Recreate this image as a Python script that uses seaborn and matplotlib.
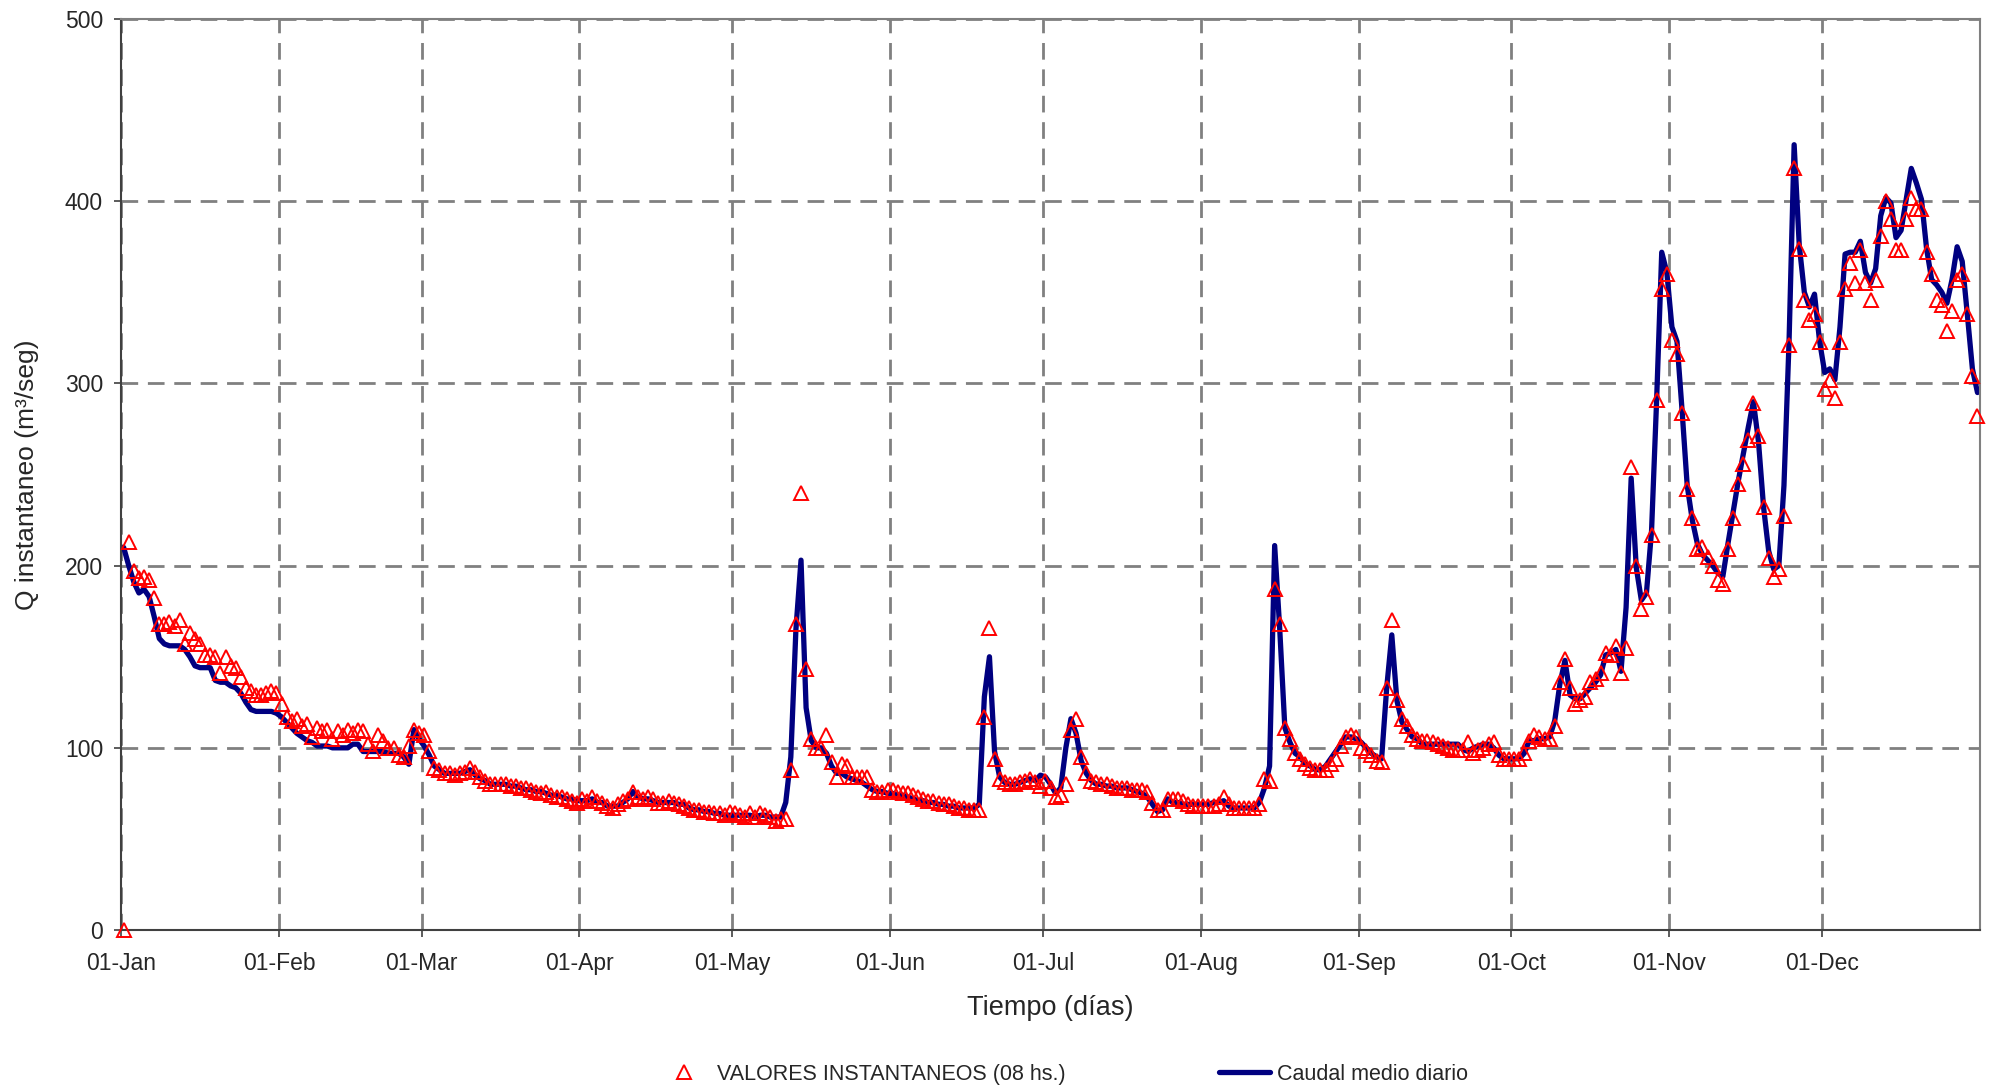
import numpy as np
import matplotlib
matplotlib.use("Agg")
import matplotlib.pyplot as plt
from matplotlib.lines import Line2D
import seaborn as sns

# month axis
month_days = [31, 28, 31, 30, 31, 30, 31, 31, 30, 31, 30, 31]
tick_labels = ["01-Jan", "01-Feb", "01-Mar", "01-Apr", "01-May", "01-Jun",
               "01-Jul", "01-Aug", "01-Sep", "01-Oct", "01-Nov", "01-Dec"]

# Caudal medio diario (m3/seg), one value per day
medio_ene = [210, 200, 191, 185, 187, 183, 172, 160, 157, 156, 156, 156, 154, 150, 145, 144,
             144, 144, 137, 136, 136, 134, 133, 130, 125, 121, 120, 120, 120, 120, 119]
medio_feb = [117, 114, 111, 108, 106, 104, 103, 101, 101, 101, 100, 100, 100, 100, 102, 102,
             98, 98, 98, 98, 98, 97, 97, 97, 95, 91, 110, 105]
medio_mar = [101, 96, 90, 88, 86, 86, 86, 86, 87, 88, 85, 83, 82, 80, 80, 80,
             80, 79, 79, 78, 77, 77, 76, 76, 75, 74, 74, 73, 72, 72, 71]
medio_abr = [71, 71, 72, 70, 70, 68, 68, 68, 70, 72, 76, 73, 72, 72, 71,
             70, 70, 70, 70, 69, 69, 67, 66, 66, 65, 65, 64, 64, 63, 63]
medio_may = [63, 63, 63, 63, 62, 63, 63, 62, 62, 62, 70, 95, 165, 203, 122, 104,
             100, 100, 97, 90, 86, 86, 84, 83, 82, 81, 79, 77, 76, 76, 75]
medio_jun = [75, 74, 74, 73, 72, 71, 71, 70, 70, 69, 69, 68, 68, 67, 67,
             67, 67, 69, 128, 150, 98, 84, 81, 80, 80, 81, 82, 83, 82, 85]
medio_jul = [84, 80, 75, 78, 100, 116, 108, 93, 86, 82, 80, 80, 79, 79, 78, 78,
             78, 77, 76, 75, 73, 69, 65, 66, 72, 70, 70, 69, 69, 69, 69]
medio_ago = [69, 69, 70, 70, 71, 68, 67, 67, 67, 67, 67, 70, 78, 90, 211, 165,
             111, 103, 97, 95, 91, 90, 88, 88, 90, 94, 98, 102, 106, 106, 105]
medio_sep = [103, 100, 97, 95, 94, 133, 162, 126, 114, 110, 106, 105, 102, 102, 102,
             102, 102, 102, 102, 102, 99, 98, 100, 101, 102, 102, 100, 96, 94, 94]
medio_oct = [94, 94, 97, 104, 104, 105, 105, 106, 115, 135, 148, 129, 127, 127, 130, 133,
             136, 140, 151, 152, 154, 142, 177, 248, 199, 181, 185, 219, 291, 372, 361]
medio_nov = [331, 323, 285, 244, 225, 212, 206, 203, 200, 196, 194, 212, 229, 246, 261,
             276, 290, 268, 232, 208, 198, 200, 244, 323, 431, 376, 350, 342, 349, 323]
medio_dic = [306, 308, 302, 331, 371, 372, 372, 378, 361, 355, 363, 392, 402, 399, 380, 384,
             401, 418, 410, 401, 374, 357, 354, 350, 344, 357, 375, 367, 338, 308, 295]

# VALORES INSTANTANEOS (08 hs.)
inst_ene = [0, 213, 197, 193, 194, 192, 182, 168, 168, 169, 167, 170, 157, 163, 160, 157,
            151, 151, 150, 141, 150, 145, 144, 139, 133, 131, 129, 129, 130, 131, 130]
inst_feb = [124, 117, 115, 116, 112, 113, 106, 111, 109, 110, 105, 109, 107, 110, 108, 110,
            109, 102, 98, 107, 104, 100, 100, 96, 95, 101, 110, 108]
inst_mar = [107, 98, 89, 88, 86, 86, 85, 86, 87, 89, 87, 84, 82, 80, 80, 80,
            80, 79, 79, 78, 78, 77, 76, 75, 76, 74, 73, 73, 72, 71, 70]
inst_abr = [72, 71, 73, 71, 70, 68, 67, 69, 71, 72, 76, 73, 72, 73, 72,
            70, 70, 71, 70, 69, 68, 67, 66, 66, 65, 65, 64, 64, 63, 65]
inst_may = [64, 63, 62, 64, 62, 64, 63, 62, 60, 61, 61, 88, 168, 240, 143, 105,
            100, 100, 107, 92, 84, 91, 90, 84, 84, 84, 84, 77, 76, 76, 77]
inst_jun = [77, 76, 75, 75, 74, 73, 72, 71, 71, 70, 69, 69, 68, 67, 67,
            66, 66, 66, 117, 166, 94, 83, 81, 80, 80, 81, 82, 83, 81, 79]
inst_jul = [82, 78, 73, 74, 80, 110, 116, 95, 86, 82, 81, 80, 80, 79, 78, 78,
            78, 77, 77, 77, 76, 70, 66, 66, 72, 72, 72, 71, 69, 68, 68]
inst_ago = [68, 68, 68, 69, 73, 69, 67, 67, 67, 67, 67, 69, 83, 82, 187, 168,
            111, 105, 97, 94, 91, 89, 88, 88, 88, 91, 94, 101, 106, 107, 106]
inst_sep = [100, 98, 96, 93, 92, 133, 170, 126, 116, 112, 107, 105, 104, 104, 103,
            102, 101, 100, 99, 99, 99, 103, 97, 99, 100, 102, 103, 96, 94, 94]
inst_oct = [94, 94, 97, 104, 107, 106, 105, 105, 112, 136, 149, 133, 124, 126, 128, 136,
            138, 141, 152, 151, 156, 141, 155, 254, 200, 176, 183, 217, 291, 352, 360]
inst_nov = [324, 316, 284, 242, 226, 209, 210, 205, 200, 192, 190, 209, 226, 245, 256,
            269, 289, 271, 232, 204, 194, 198, 227, 321, 418, 374, 346, 335, 338, 323]
inst_dic = [297, 302, 292, 323, 352, 366, 355, 373, 355, 346, 357, 381, 400, 390, 373, 373,
            390, 402, 396, 396, 372, 360, 346, 343, 329, 340, 357, 360, 338, 304, 282]

medio = (medio_ene + medio_feb + medio_mar + medio_abr + medio_may + medio_jun +
         medio_jul + medio_ago + medio_sep + medio_oct + medio_nov + medio_dic)
inst = (inst_ene + inst_feb + inst_mar + inst_abr + inst_may + inst_jun +
        inst_jul + inst_ago + inst_sep + inst_oct + inst_nov + inst_dic)

dias = np.arange(len(medio)) + 0.5
month_start = np.concatenate([[0], np.cumsum(month_days)[:-1]])

# style
sns.set_style("white")
plt.rcParams['font.family'] = ['Liberation Sans', 'DejaVu Sans']

fig, ax = plt.subplots(figsize=(19.95, 10.86), dpi=100)
fig.subplots_adjust(left=0.0607, right=0.9925, top=0.9825, bottom=0.1436)

sns.lineplot(x=dias, y=medio, color="#000080", linewidth=3.8,
             estimator=None, errorbar=None, ax=ax, zorder=2)
sns.lineplot(x=dias, y=inst, linestyle="none", marker="^", markersize=10.5,
             markerfacecolor="none", markeredgecolor="#FF0000", markeredgewidth=1.4,
             estimator=None, errorbar=None, ax=ax, zorder=3, clip_on=False)

ax.set_xlim(0, 365)
ax.set_ylim(0, 500)
ax.set_xticks(month_start)
ax.set_xticklabels(tick_labels, fontsize=16.5)
ax.set_yticks(np.arange(0, 501, 100))
ax.tick_params(axis="y", labelsize=16.5, length=5, width=1.2, pad=8, left=True, color="#404040")
ax.tick_params(axis="x", length=5, width=1.2, pad=11, bottom=True, color="#404040")

ax.grid(True, color="#808080", linestyle=(0, (6, 3.5)), linewidth=2)
for side in ["left", "bottom"]:
    ax.spines[side].set_color("#404040")
    ax.spines[side].set_linewidth(1.5)
for side in ["top", "right"]:
    ax.spines[side].set_color("#808080")
    ax.spines[side].set_linewidth(1.5)

ax.set_xlabel("Tiempo (días)", fontsize=19.5)
ax.set_ylabel("Q instantaneo (m³/seg)", fontsize=19)
ax.xaxis.set_label_coords(0.5, -0.071)
ax.yaxis.set_label_coords(-0.044, 0.5)

# legend at the bottom
handles = [
    Line2D([], [], linestyle="none", marker="^", markersize=10.5, markerfacecolor="none",
           markeredgecolor="#FF0000", markeredgewidth=1.4),
    Line2D([], [], color="#000080", linewidth=3.8),
]
labels = ["VALORES INSTANTANEOS (08 hs.)", "Caudal medio diario"]
fig.legend(handles, labels, loc="center", bbox_to_anchor=(0.533, 0.011), ncol=2,
           frameon=False, fontsize=15.5, columnspacing=7.1, handlelength=2.37,
           handletextpad=0.33)

plt.savefig("out.png", dpi=100)
